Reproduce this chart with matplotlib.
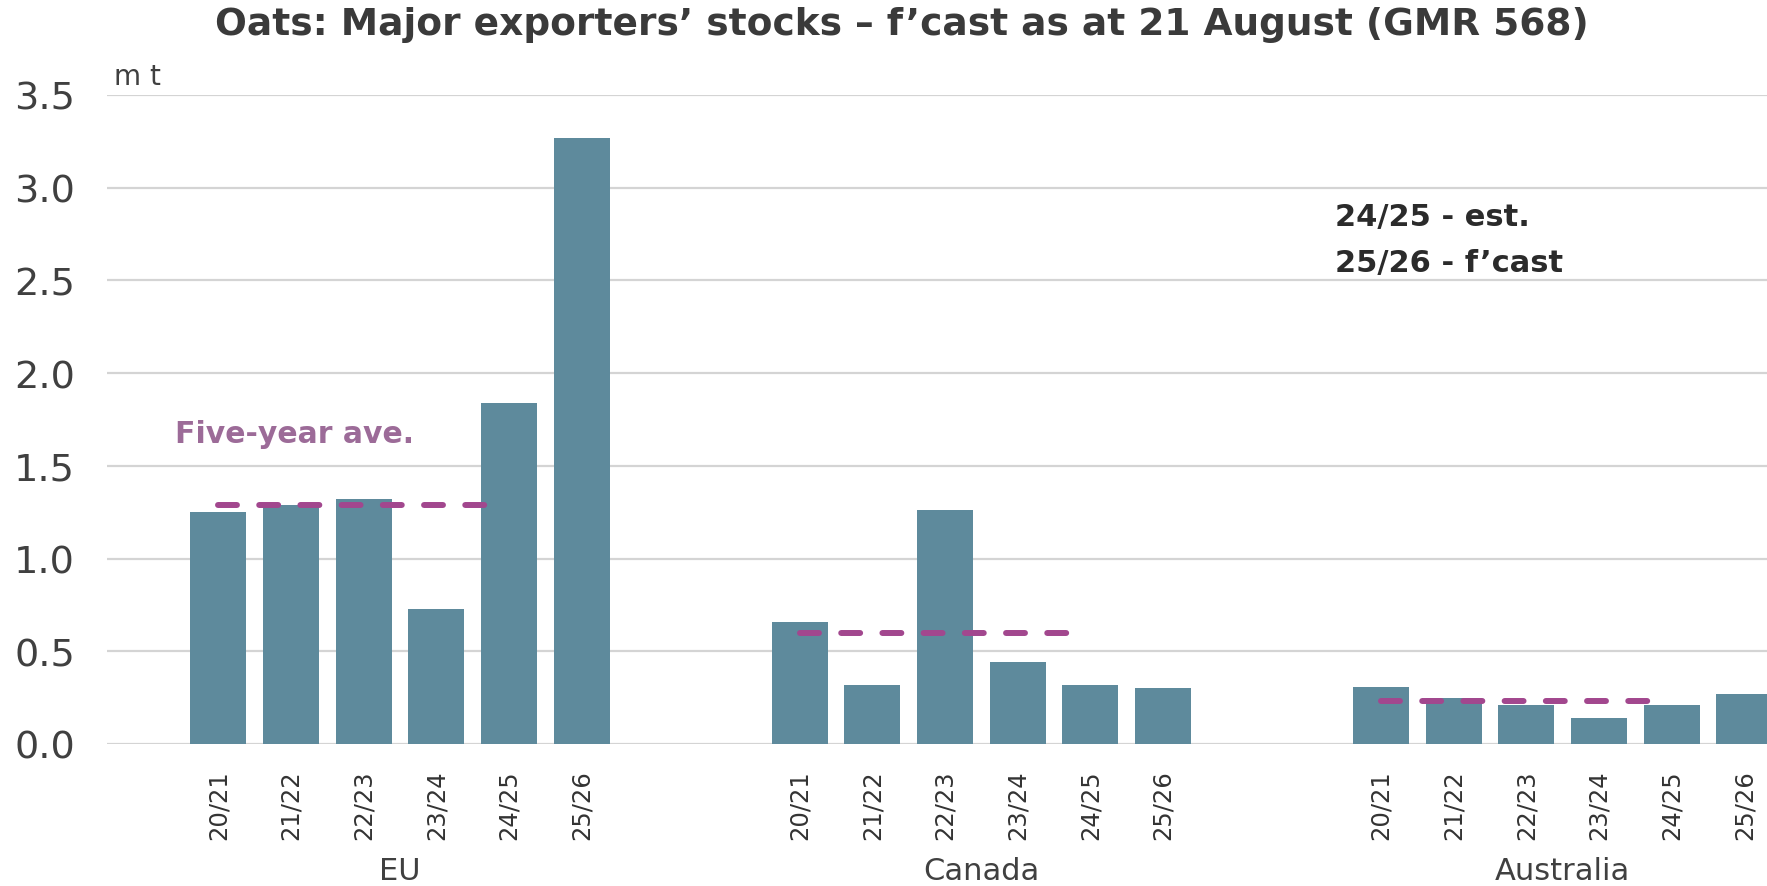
import matplotlib
matplotlib.use('Agg')
from matplotlib import pyplot as plt
from matplotlib.transforms import blended_transform_factory

# Oats ending stocks by exporter, million tonnes
regions = ['EU', 'Canada', 'Australia']
seasons = ['20/21', '21/22', '22/23', '23/24', '24/25', '25/26']
eu_stocks = [1.25, 1.29, 1.32, 0.73, 1.84, 3.27]
canada_stocks = [0.66, 0.32, 1.26, 0.44, 0.32, 0.30]
australia_stocks = [0.31, 0.25, 0.21, 0.14, 0.21, 0.27]
five_year_ave = [1.29, 0.60, 0.23]

bar_color = '#5e8a9c'
ave_color = '#a2478e'

# each region gets 6 bar slots plus 2 empty slots as a gap
slots_per_group = 8

fig = plt.figure(figsize=(17.67, 8.87), dpi=100)
ax = fig.add_axes([0.0606, 0.1601, 0.9394, 0.7317])

positions = []
labels = []
for g, vals in enumerate([eu_stocks, canada_stocks, australia_stocks]):
    x = [g * slots_per_group + i for i in range(len(vals))]
    ax.bar(x, vals, width=0.77, color=bar_color, zorder=2)
    positions += x
    labels += seasons
    # five-year average across 20/21 - 24/25
    x0 = g * slots_per_group
    ax.plot([x0, x0 + 3.7], [five_year_ave[g], five_year_ave[g]],
            color=ave_color, lw=4.3, dashes=(3.17, 3.73),
            dash_capstyle='round', zorder=3)

ax.set_xlim(-1.53, 21.31)
ax.set_ylim(0, 3.5)
ax.set_yticks([0, 0.5, 1.0, 1.5, 2.0, 2.5, 3.0, 3.5])
ax.set_yticklabels(['0.0', '0.5', '1.0', '1.5', '2.0', '2.5', '3.0', '3.5'])
ax.set_xticks(positions)
ax.set_xticklabels(labels, rotation=90)

ax.tick_params(axis='y', length=0, pad=23, labelsize=27.5, labelcolor='#404040')
ax.tick_params(axis='x', length=0, pad=18, labelsize=17.5, labelcolor='#333333')
for lab in ax.get_yticklabels() + ax.get_xticklabels():
    lab.set_family('DejaVu Sans')

ax.grid(axis='y', color='#d4d4d4', lw=1.6, zorder=0)
ax.set_axisbelow(True)
for s in ax.spines.values():
    s.set_visible(False)

# region names under each group of bars
trans = blended_transform_factory(ax.transData, fig.transFigure)
for g, name in enumerate(regions):
    cx = g * slots_per_group + 2.5
    ax.text(cx, 0.018, name, transform=trans, ha='center', va='center',
            fontsize=22, color='#404040', family='DejaVu Sans')

ax.text(-1.44, 3.56, 'm t', fontsize=20, color='#404040',
        family='DejaVu Sans', va='baseline', clip_on=False)

ax.text(-0.59, 1.63, 'Five-year ave.', fontsize=21.5, fontweight='bold',
        color='#9c6b98', family='DejaVu Sans', va='baseline')

ax.text(15.36, 2.80, '24/25 - est.', fontsize=22, fontweight='bold',
        color='#2b2b2b', family='DejaVu Sans', va='baseline')
ax.text(15.36, 2.55, '25/26 - f\u2019cast', fontsize=22, fontweight='bold',
        color='#2b2b2b', family='DejaVu Sans', va='baseline')

fig.text(0.5105, 0.972,
         'Oats: Major exporters\u2019 stocks \u2013 f\u2019cast as at 21 August (GMR 568)',
         ha='center', va='center', fontsize=27, fontweight='bold',
         color='#3a3a3a', family='DejaVu Sans')

fig.savefig('out.png', dpi=100)
